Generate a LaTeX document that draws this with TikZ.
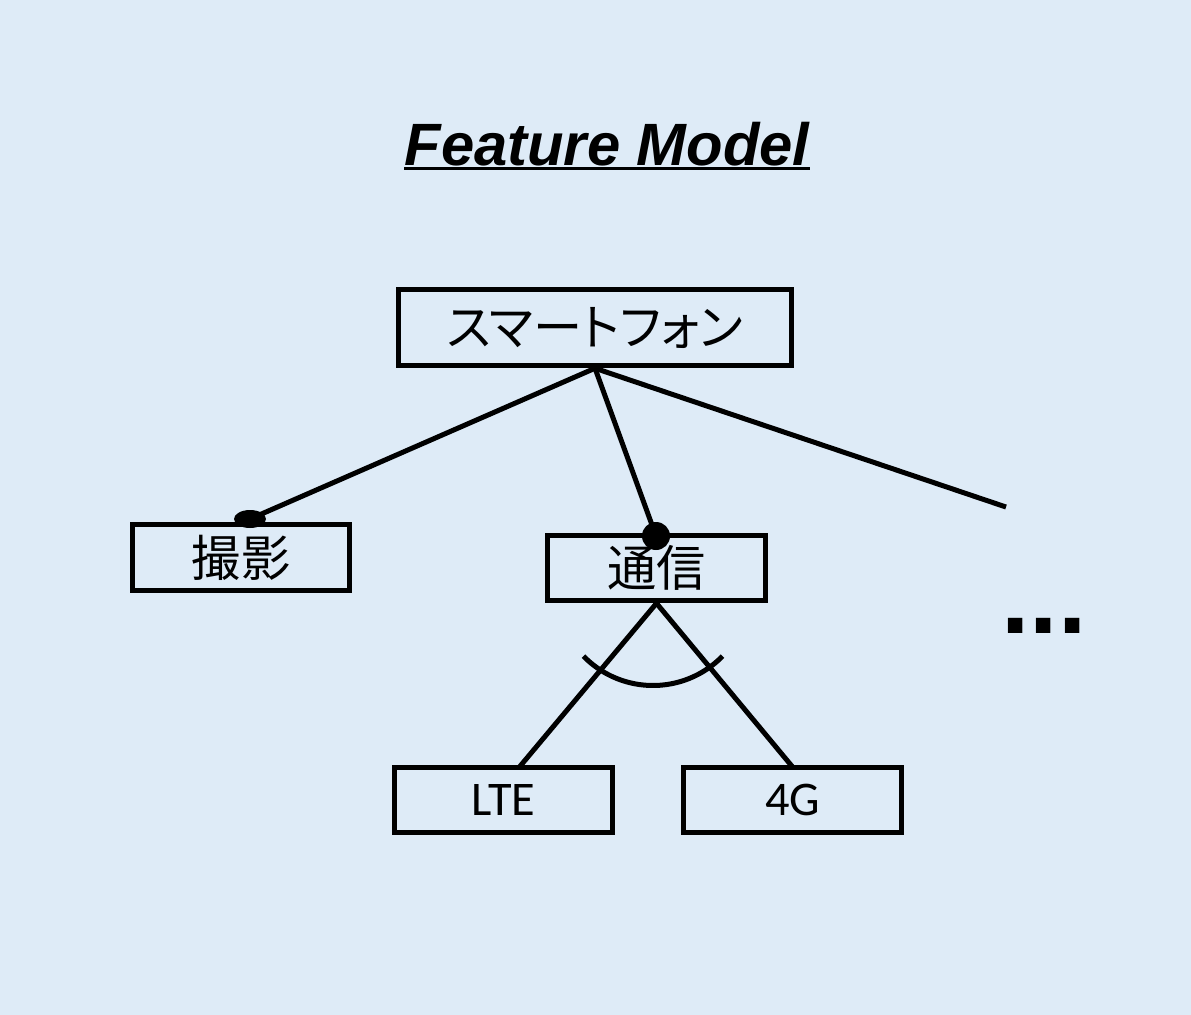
\documentclass[tikz,border=0pt]{standalone}
\usepackage{fontspec}
\setmainfont{Liberation Sans}
\newfontfamily\jpfont[RawFeature=+palt]{Noto Sans CJK JP}
\newfontfamily\calfont{Carlito}
\definecolor{bgblue}{RGB}{222,235,247}
\tikzset{
  feature/.style={
    draw,
    line width=0.11cm,
    inner sep=0pt,
    font=\jpfont\fontsize{28}{30}\selectfont,
  },
  link/.style={line width=0.1cm},
}

\begin{document}
\begin{tikzpicture}[x=0.02cm, y=-0.02cm]

        \fill [bgblue] (0,0) rectangle (1191,1015);

        %% title
        \node [inner sep=0pt, anchor=base, font=\bfseries\itshape\fontsize{34}{36}\selectfont] (title) at (607,165) {Feature Model};
        \draw [line width=0.05cm] ([yshift=-2pt]title.base west) -- ([yshift=-2pt]title.base east);

        %% features
        \node [feature, minimum width=7.86cm, minimum height=1.52cm] (phone) at (595,327.5) {スマートフォン};
        \node [feature, minimum width=4.34cm, minimum height=1.32cm] (shoot) at (241,557.5) {撮影};
        \node [feature, minimum width=4.36cm, minimum height=1.30cm] (comm) at (656.5,568) {通信};
        \node [feature, minimum width=4.36cm, minimum height=1.30cm, font=\calfont\fontsize{27.5}{29}\selectfont] (lte) at (503.5,800) {LTE};
        \node [feature, minimum width=4.36cm, minimum height=1.30cm, font=\calfont\fontsize{27.5}{29}\selectfont] (g4) at (792.5,800) {4G};
        \node [inner sep=0pt, font=\bfseries\fontsize{58}{60}\selectfont] (more) at (1044,626) {...};

        \coordinate (shoot dot) at (250,519);
        \coordinate (comm dot) at (656,536);
        \coordinate (more end) at (1006,507);
        \coordinate (lte top) at (519,767.5);
        \coordinate (g4 top) at (793,767.5);
        \coordinate (alt) at (653,588.5);

        %% links
        \draw [link] (phone.south) -- (shoot dot);
        \draw [link] (phone.south) -- (comm dot);
        \draw [link] (phone.south) -- (more end);
        \fill (shoot dot) ellipse [x radius=16, y radius=9];
        \fill (comm dot) circle [radius=14];

        \draw [link] (comm.south) -- (lte top);
        \draw [link] (comm.south) -- (g4 top);
        \draw [link] (alt) ++(135.8:97) arc [start angle=135.8, end angle=44.2, radius=97];
      \end{tikzpicture}
\end{document}
